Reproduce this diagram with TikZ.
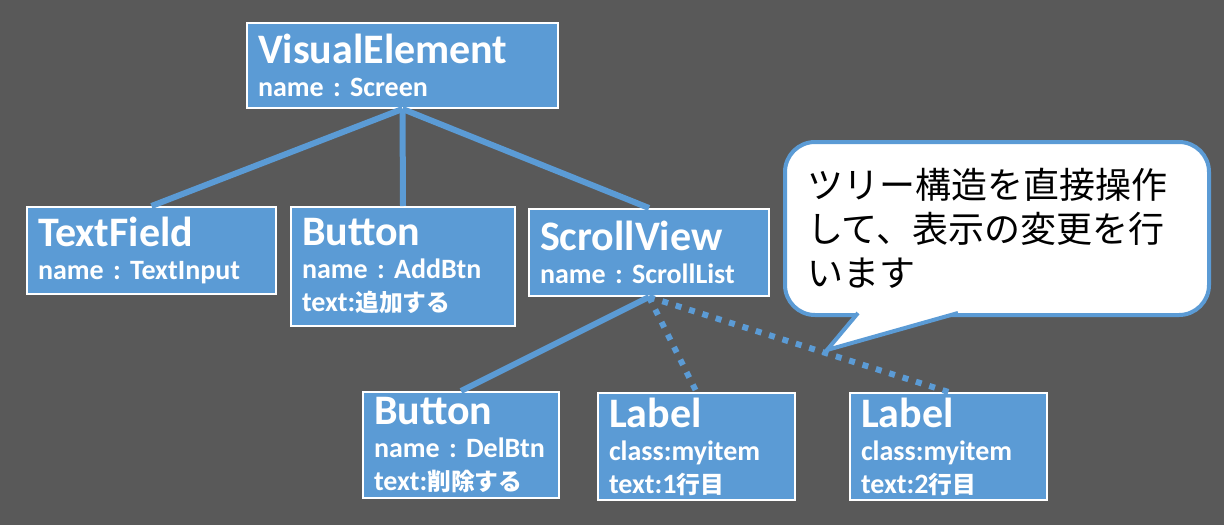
\documentclass[tikz,border=0pt]{standalone}
\usepackage{fontspec}
\setmainfont{Carlito}
\newfontfamily\jp{Noto Sans CJK JP}
\newfontfamily\jpsmall[Scale=0.85]{Noto Sans CJK JP}
\frenchspacing
\definecolor{bgGray}{HTML}{595959}
\definecolor{elemBlue}{HTML}{5B9BD5}
\newcommand{\elemTitle}[1]{{\fontsize{42}{44}\selectfont #1}}
\tikzset{
    elem/.style 2 args={rectangle, anchor=north west, draw=white, line width=2pt, fill=elemBlue, text=white, align=left, inner xsep=11pt, inner ysep=0pt, text width=#1, minimum height=#2, font=\fontsize{28}{33}\selectfont\bfseries},
    link/.style={draw=elemBlue, line width=6pt},
    maybe/.style={link, dash pattern=on 6pt off 8pt},
    bubble/.style={rectangle, anchor=north west, draw=elemBlue, line width=4pt, fill=white, rounded corners=30pt, align=left, inner xsep=22pt, text width=380pt, minimum height=173pt, font=\jp\fontsize{36}{44}\selectfont}
}
\begin{document}
\begin{tikzpicture}[x=1pt, y=-1pt]
    \fill[bgGray] (0,0) rectangle (1224,525);
    \useasboundingbox (0,0) rectangle (1224,525);

    \node (screen) [elem={289pt}{85pt}] at (246,22) {\elemTitle{VisualElement}\\name : Screen};
    \node (textInput) [elem={227pt}{87pt}] at (26,206) {\elemTitle{TextField}\\name : TextInput};
    \node (addBtn) [elem={202pt}{119pt}] at (290,206) {\elemTitle{Button}\\name : AddBtn\\text:{\jpsmall 追加する}};
    \node (scrollList) [elem={218pt}{87pt}] at (528,208) {\elemTitle{ScrollView}\\name : ScrollList};
    \node (delBtn) [elem={174pt}{106pt}] at (362,391) {\elemTitle{Button}\\name : DelBtn\\text:{\jpsmall 削除する}};
    \node (itemOne) [elem={175pt}{107pt}] at (597,392) {\elemTitle{Label}\\class:myitem\\text:1{\jpsmall 行目}};
    \node (itemTwo) [elem={175pt}{107pt}] at (849,392) {\elemTitle{Label}\\class:myitem\\text:2{\jpsmall 行目}};

    \draw [link] (screen.south) -- (textInput.north);
    \draw [link] (screen.south) -- (addBtn.north);
    \draw [link] (screen.south) -- (scrollList.north);
    \draw [link] (scrollList.south) -- (delBtn.north);
    \draw [maybe] (scrollList.south) -- (itemOne.north);
    \draw [maybe] (scrollList.south) -- (itemTwo.north);

    % speech bubble
    \node (note) [bubble] at (783,140) {ツリー構造を直接操作\\して、表示の変更を行\\います};
    \fill [white] (855,308) -- (858,313) -- (827,350) -- (958,313) -- (961,308) -- cycle;
    \draw [draw=elemBlue, line width=4pt] (858,313) -- (827,350) -- (958,313);
\end{tikzpicture}
\end{document}
